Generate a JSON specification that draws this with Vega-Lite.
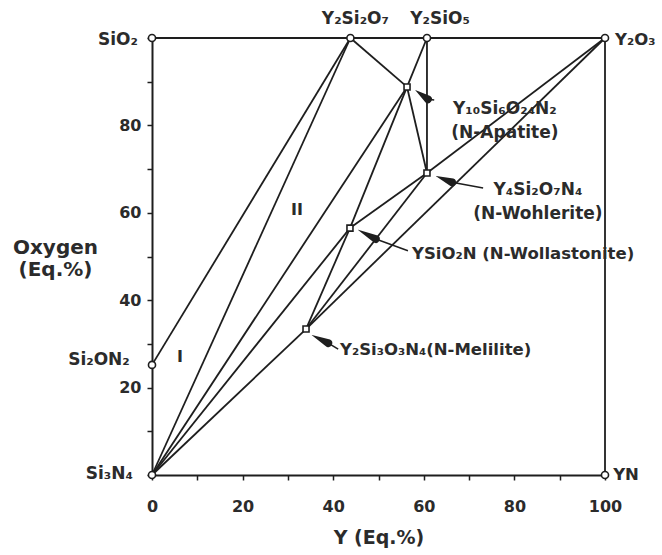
{
  "$schema": "https://vega.github.io/schema/vega-lite/v6.json",
  "autosize": {"type": "none"},
  "padding": {"left": 152, "top": 38, "right": 57, "bottom": 80},
  "width": 453,
  "height": 437,
  "background": "white",
  "config": {
    "view": {"stroke": null},
    "font": "DejaVu Sans",
    "axis": {
      "labelFont": "DejaVu Sans", "labelFontWeight": "bold", "labelFontSize": 16, "labelColor": "#2b2b2b",
      "titleFont": "DejaVu Sans", "titleFontWeight": "bold", "titleColor": "#2b2b2b",
      "domainColor": "#1e1e1e", "domainWidth": 2, "tickColor": "#1e1e1e", "tickWidth": 1.5, "tickSize": 5, "grid": false
    }
  },
  "datasets": {
    "segs": [
      {"x": 0, "y": 100, "x2": 100, "y2": 100},
      {"x": 100, "y": 0, "x2": 100, "y2": 100},
      {"x": 0, "y": 25.2, "x2": 43.8, "y2": 100},
      {"x": 0, "y": 0, "x2": 43.8, "y2": 100},
      {"x": 0, "y": 0, "x2": 56.3, "y2": 88.8},
      {"x": 0, "y": 0, "x2": 43.7, "y2": 56.5},
      {"x": 0, "y": 0, "x2": 34.0, "y2": 33.4},
      {"x": 43.8, "y": 100, "x2": 56.3, "y2": 88.8},
      {"x": 60.7, "y": 100, "x2": 56.3, "y2": 88.8},
      {"x": 60.7, "y": 100, "x2": 60.7, "y2": 69.1},
      {"x": 56.3, "y": 88.8, "x2": 60.7, "y2": 69.1},
      {"x": 56.3, "y": 88.8, "x2": 43.7, "y2": 56.5},
      {"x": 43.7, "y": 56.5, "x2": 60.7, "y2": 69.1},
      {"x": 43.7, "y": 56.5, "x2": 34.0, "y2": 33.4},
      {"x": 34.0, "y": 33.4, "x2": 60.7, "y2": 69.1},
      {"x": 34.0, "y": 33.4, "x2": 100, "y2": 100},
      {"x": 60.7, "y": 69.1, "x2": 100, "y2": 100}
    ],
    "edgePhases": [
      {"phase": "SiO2", "x": 0, "y": 100},
      {"phase": "Y2Si2O7", "x": 43.8, "y": 100},
      {"phase": "Y2SiO5", "x": 60.7, "y": 100},
      {"phase": "Y2O3", "x": 100, "y": 100},
      {"phase": "Si2ON2", "x": 0, "y": 25.2},
      {"phase": "Si3N4", "x": 0, "y": 0},
      {"phase": "YN", "x": 100, "y": 0}
    ],
    "innerPhases": [
      {"phase": "N-Apatite", "x": 56.3, "y": 88.8},
      {"phase": "N-Wohlerite", "x": 60.7, "y": 69.1},
      {"phase": "N-Wollastonite", "x": 43.7, "y": 56.5},
      {"phase": "N-Melilite", "x": 34.0, "y": 33.4}
    ],
    "arrowLines": [
      {"arrow": "apatite", "x": 60.9, "y": 86.0, "x2": 62.3, "y2": 85.8},
      {"arrow": "wohlerite", "x": 66.2, "y": 67.0, "x2": 73.1, "y2": 65.7},
      {"arrow": "wollastonite", "x": 49.4, "y": 54.0, "x2": 56.5, "y2": 51.3},
      {"arrow": "melilite", "x": 38.9, "y": 30.2, "x2": 41.1, "y2": 28.8}
    ],
    "arrowHeads": [
      {"arrow": "apatite", "part": "tip", "x": 58.1, "y": 88.1},
      {"arrow": "apatite", "part": "base", "x": 60.9, "y": 86.0},
      {"arrow": "wohlerite", "part": "tip", "x": 62.7, "y": 68.4},
      {"arrow": "wohlerite", "part": "base", "x": 66.2, "y": 67.0},
      {"arrow": "wollastonite", "part": "tip", "x": 45.5, "y": 56.1},
      {"arrow": "wollastonite", "part": "base", "x": 49.4, "y": 54.0},
      {"arrow": "melilite", "part": "tip", "x": 35.3, "y": 32.0},
      {"arrow": "melilite", "part": "base", "x": 38.9, "y": 30.2}
    ],
    "labelsRightAligned": [
      {"text": "SiO₂", "x": -3.1, "y": 99.5},
      {"text": "Si₂ON₂", "x": -4.9, "y": 26.3},
      {"text": "Si₃N₄", "x": -4.2, "y": 0.2}
    ],
    "labelsLeftAligned": [
      {"text": "Y₂O₃", "x": 102.2, "y": 99.5},
      {"text": "YN", "x": 101.8, "y": 0},
      {"text": "YSiO₂N (N-Wollastonite)", "x": 57.4, "y": 50.6},
      {"text": "Y₂Si₃O₃N₄(N-Melilite)", "x": 41.5, "y": 28.6}
    ],
    "labelsCentered": [
      {"text": "Y₂Si₂O₇", "x": 44.9, "y": 104.3},
      {"text": "Y₂SiO₅", "x": 63.6, "y": 104.3},
      {"text": "Y₁₀Si₆O₂₄N₂\n(N-Apatite)", "x": 77.9, "y": 83.7},
      {"text": "Y₄Si₂O₇N₄\n(N-Wohlerite)", "x": 85.2, "y": 65.2}
    ],
    "regions": [
      {"text": "I", "x": 6.2, "y": 27.0},
      {"text": "II", "x": 32.0, "y": 60.6}
    ]
  },
  "encoding": {
    "x": {"field": "x", "type": "quantitative", "scale": {"domain": [0, 100], "nice": false, "zero": false},
      "axis": {"title": "Y (Eq.%)", "values": [0, 10, 20, 30, 40, 50, 60, 70, 80, 90, 100],
        "labelExpr": "datum.value % 20 === 0 ? datum.label : ''", "labelPadding": 18,
        "titleFontSize": 19, "titlePadding": 14, "labelFlush": false}},
    "y": {"field": "y", "type": "quantitative", "scale": {"domain": [0, 100], "nice": false, "zero": false},
      "axis": {"title": ["Oxygen", "(Eq.%)"], "values": [0, 10, 20, 30, 40, 50, 60, 70, 80, 90, 100],
        "labelExpr": "(datum.value % 20 === 0 && datum.value > 0 && datum.value < 100) ? datum.label : ''",
        "labelPadding": 6, "titleFontSize": 20, "titleAngle": 0, "titleAlign": "center", "titleBaseline": "top",
        "titleX": -97, "titleY": 199, "titleLineHeight": 22, "labelFlush": false}}
  },
  "layer": [
    {
      "data": {"name": "segs"},
      "mark": {"type": "rule", "color": "#1e1e1e", "strokeWidth": 1.8},
      "encoding": {"x2": {"field": "x2"}, "y2": {"field": "y2"}}
    },
    {
      "data": {"name": "arrowLines"},
      "mark": {"type": "rule", "color": "#1e1e1e", "strokeWidth": 1.5},
      "encoding": {"x2": {"field": "x2"}, "y2": {"field": "y2"}}
    },
    {
      "data": {"name": "arrowHeads"},
      "mark": {"type": "trail", "color": "#1e1e1e"},
      "encoding": {
        "detail": {"field": "arrow"},
        "order": {"field": "part", "sort": "descending"},
        "size": {"field": "part", "type": "nominal", "scale": {"domain": ["tip", "base"], "range": [0.2, 8]}, "legend": null}
      }
    },
    {
      "data": {"name": "edgePhases"},
      "mark": {"type": "point", "shape": "circle", "size": 50, "filled": false, "fill": "white", "fillOpacity": 1, "stroke": "#1e1e1e", "strokeWidth": 1.6, "opacity": 1}
    },
    {
      "data": {"name": "innerPhases"},
      "mark": {"type": "point", "shape": "square", "size": 36, "filled": false, "fill": "white", "fillOpacity": 1, "stroke": "#1e1e1e", "strokeWidth": 1.6, "opacity": 1}
    },
    {
      "data": {"name": "labelsRightAligned"},
      "mark": {"type": "text", "align": "right", "baseline": "middle", "font": "DejaVu Sans", "fontWeight": "bold", "fontSize": 17, "color": "#2b2b2b"},
      "encoding": {"text": {"field": "text"}}
    },
    {
      "data": {"name": "labelsLeftAligned"},
      "mark": {"type": "text", "align": "left", "baseline": "middle", "font": "DejaVu Sans", "fontWeight": "bold", "fontSize": 16.5, "color": "#2b2b2b"},
      "encoding": {"text": {"field": "text"}}
    },
    {
      "data": {"name": "labelsCentered"},
      "mark": {"type": "text", "align": "center", "baseline": "middle", "lineBreak": "\n", "lineHeight": 24, "font": "DejaVu Sans", "fontWeight": "bold", "fontSize": 17, "color": "#2b2b2b"},
      "encoding": {"text": {"field": "text"}}
    },
    {
      "data": {"name": "regions"},
      "mark": {"type": "text", "align": "center", "baseline": "middle", "font": "DejaVu Sans", "fontWeight": "bold", "fontSize": 16, "color": "#2b2b2b"},
      "encoding": {"text": {"field": "text"}}
    }
  ]
}
